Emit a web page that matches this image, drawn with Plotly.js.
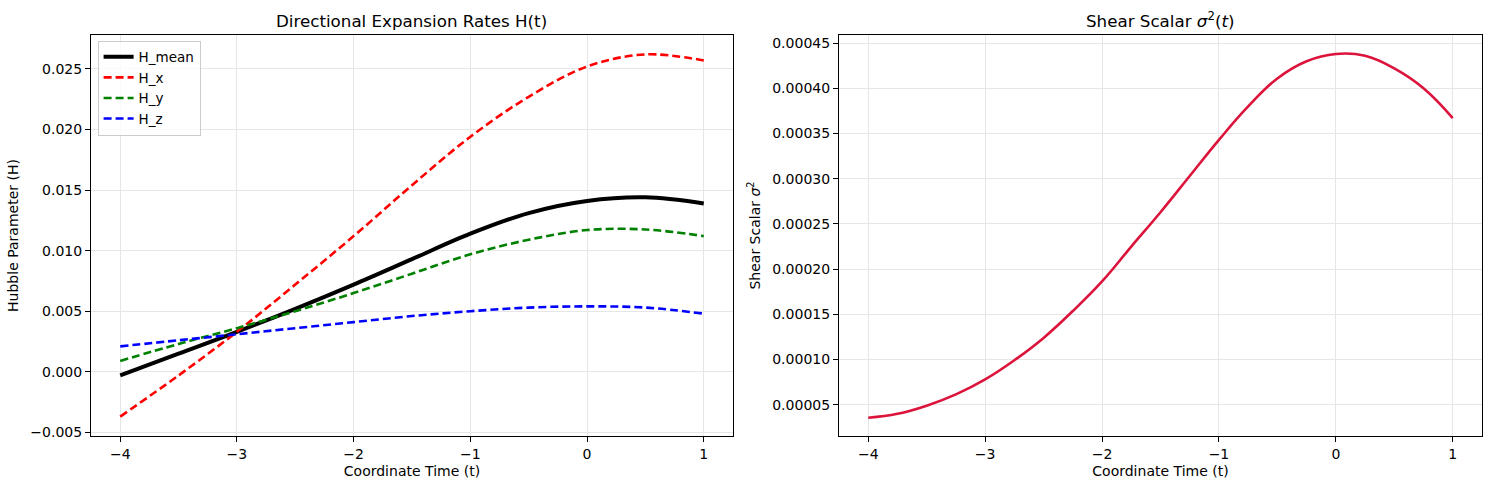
<!DOCTYPE html>
<html>
<head>
<meta charset="utf-8">
<script src="https://cdn.plot.ly/plotly-3.0.1.min.js"></script>
<style>
  html, body { margin: 0; padding: 0; background: #fff; }
  #chart { width: 1490px; height: 489px; }
</style>
</head>
<body>
<div id="chart"></div>
<script>
// values
const tH = [-4, -3.5, -3, -2.5, -2, -1.5, -1, -0.5, 0, 0.5, 1];
const hMean = [-0.0003, 0.0015, 0.0033, 0.0052, 0.0072, 0.0093, 0.0114, 0.0131, 0.0141, 0.0144, 0.0139];
const hX = [-0.0037, -0.0003, 0.0033, 0.0072, 0.0112, 0.0154, 0.0194, 0.0227, 0.0252, 0.0262, 0.0257];
const hY = [0.0009, 0.0023, 0.0036, 0.0050, 0.0065, 0.0081, 0.0097, 0.0109, 0.0117, 0.01175, 0.0112];
const hZ = [0.0021, 0.0026, 0.0031, 0.0036, 0.0041, 0.0046, 0.0050, 0.0053, 0.0054, 0.0053, 0.0048];

const tS = [-4, -3.75, -3.5, -3.25, -3, -2.75, -2.5, -2.25, -2, -1.75, -1.5, -1.25, -1, -0.75, -0.5, -0.25, 0, 0.25, 0.5, 0.75, 1];
const shear = [0.0000356, 0.0000400, 0.0000490, 0.0000615, 0.0000781, 0.0000993, 0.000124, 0.0001537, 0.0001865, 0.000225, 0.000263, 0.000303, 0.000343, 0.000380, 0.000411, 0.000430, 0.000438, 0.000436, 0.000422, 0.000400, 0.000367];

const FONT = "DejaVu Sans, Liberation Sans, sans-serif";

const traces = [
  { x: tH, y: hMean, name: "H_mean", mode: "lines", line: { color: "black", width: 4, shape: "spline", smoothing: 1 }, xaxis: "x", yaxis: "y" },
  { x: tH, y: hX, name: "H_x", mode: "lines", line: { color: "red", width: 2.6, dash: "8px,4px", shape: "spline", smoothing: 1 }, xaxis: "x", yaxis: "y" },
  { x: tH, y: hY, name: "H_y", mode: "lines", line: { color: "green", width: 2.6, dash: "8px,4px", shape: "spline", smoothing: 1 }, xaxis: "x", yaxis: "y" },
  { x: tH, y: hZ, name: "H_z", mode: "lines", line: { color: "blue", width: 2.6, dash: "8px,4px", shape: "spline", smoothing: 1 }, xaxis: "x", yaxis: "y" },
  { x: tS, y: shear, name: "shear", mode: "lines", showlegend: false, line: { color: "#DC143C", width: 2.6, shape: "spline", smoothing: 1.2 }, xaxis: "x2", yaxis: "y2" }
];

function axisBase() {
  return {
    showline: true, mirror: true, linecolor: "black", linewidth: 1.1,
    ticks: "outside", ticklen: 5, tickwidth: 1, tickcolor: "black",
    showgrid: true, gridcolor: "#e6e6e6", gridwidth: 1,
    zeroline: false,
    tickfont: { family: FONT, size: 14, color: "black" }
  };
}

const layout = {
  width: 1490, height: 489,
  margin: { l: 0, r: 0, t: 0, b: 0 },
  paper_bgcolor: "white", plot_bgcolor: "white",
  font: { family: FONT, color: "black" },
  showlegend: true,
  legend: {
    x: 0.0655, y: 0.917, xanchor: "left", yanchor: "top",
    bgcolor: "rgba(255,255,255,0.8)", bordercolor: "#cccccc", borderwidth: 1,
    font: { family: FONT, size: 13.5, color: "black" },
    tracegroupgap: 0
  },
  xaxis: Object.assign(axisBase(), {
    domain: [0.0611, 0.4919], anchor: "y",
    range: [-4.25, 1.25], dtick: 1, tick0: 0,
    title: { text: "Coordinate Time (t)", font: { family: FONT, size: 14 }, standoff: 5 }
  }),
  yaxis: Object.assign(axisBase(), {
    domain: [0.1084, 0.9284], anchor: "x",
    range: [-0.0053, 0.0278], dtick: 0.005, tick0: 0, tickformat: ".3f",
    title: { text: "Hubble Parameter (H)", font: { family: FONT, size: 14 }, standoff: 8 }
  }),
  xaxis2: Object.assign(axisBase(), {
    domain: [0.5631, 0.9946], anchor: "y2",
    range: [-4.25, 1.25], dtick: 1, tick0: 0,
    title: { text: "Coordinate Time (t)", font: { family: FONT, size: 14 }, standoff: 5 }
  }),
  yaxis2: Object.assign(axisBase(), {
    domain: [0.1084, 0.9284], anchor: "x2",
    range: [0.0000155, 0.000459], dtick: 0.00005, tick0: 0, tickformat: ".5f",
    title: { text: "Shear Scalar <i>σ</i><sup>2</sup>", font: { family: FONT, size: 14 }, standoff: 8 }
  }),
  annotations: [
    { text: "Directional Expansion Rates H(t)", xref: "paper", yref: "paper",
      x: (0.0611 + 0.4919) / 2, y: 1 - 21 / 489, xanchor: "center", yanchor: "middle",
      showarrow: false, font: { family: FONT, size: 16.7, color: "black" } },
    { text: "Shear Scalar <i>σ</i><sup>2</sup>(<i>t</i>)", xref: "paper", yref: "paper",
      x: (0.5631 + 0.9946) / 2, y: 1 - 20 / 489, xanchor: "center", yanchor: "middle",
      showarrow: false, font: { family: FONT, size: 16.7, color: "black" } }
  ]
};

Plotly.newPlot("chart", traces, layout, { displayModeBar: false, staticPlot: true });
</script>
</body>
</html>
